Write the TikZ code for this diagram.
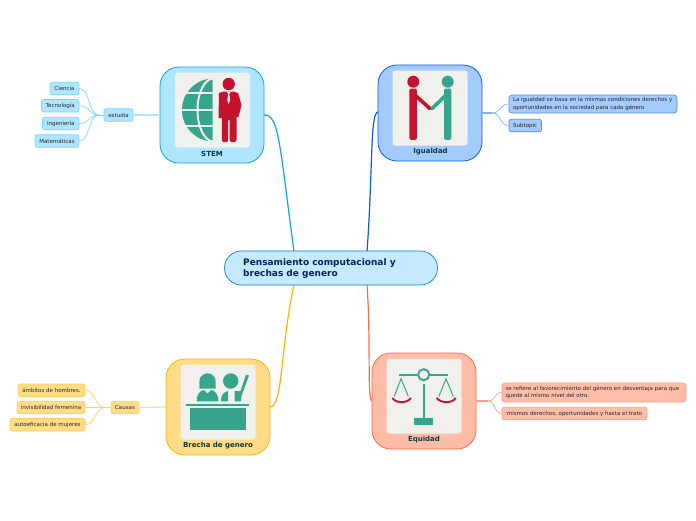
\documentclass[tikz,border=0pt]{standalone}
\usepackage{fontspec}
\setmainfont{DejaVu Sans}
\usetikzlibrary{calc}
\definecolor{teal1}{HTML}{37A58E}
\definecolor{red1}{HTML}{C5122F}
\definecolor{inner}{HTML}{F0F0EC}
\definecolor{labelc}{HTML}{0F3A3C}
\definecolor{bF}{HTML}{B0E5FF}\definecolor{bD}{HTML}{0AA5E6}\definecolor{bL}{HTML}{7AD4FF}
\definecolor{iF}{HTML}{A3CBFF}\definecolor{iD}{HTML}{0A5FD6}\definecolor{iL}{HTML}{7FB2F5}
\definecolor{yF}{HTML}{FFDD88}\definecolor{yD}{HTML}{FFB300}\definecolor{yL}{HTML}{FFCF5E}
\definecolor{rF}{HTML}{FFBDA8}\definecolor{rD}{HTML}{FF6A3D}\definecolor{rL}{HTML}{FF9C80}
\definecolor{cF}{HTML}{C5EAFF}\definecolor{cD}{HTML}{0B86C8}\definecolor{cT}{HTML}{0B1F5A}
\tikzset{
 x=1pt,y=-1pt,
 mainbox/.style={rounded corners=19pt,line width=0.8pt,minimum width=104pt,minimum height=96pt,inner sep=0pt},
 panel/.style={fill=inner,rounded corners=3pt,minimum width=75pt,minimum height=75pt,inner sep=0pt},
 mainlabel/.style={font=\bfseries\fontsize{7}{8}\selectfont,text=labelc,inner sep=0pt},
 leaf/.style={rounded corners=2.2pt,line width=0.7pt,inner sep=0pt,font=\fontsize{5.5}{7.2}\selectfont,text=black!85,align=left},
 link/.style={line width=1.2pt},
 twig/.style={line width=0.7pt},
 tealp/.style={fill=teal1,draw=none},
 redp/.style={fill=red1,draw=none},
}
\begin{document}
\begin{tikzpicture}
\useasboundingbox (0,0) rectangle (696,520);
% connector end coordinates on the central node
\coordinate (cNW) at (294,251.5);
\coordinate (cNE) at (367,251.5);
\coordinate (cSW) at (294,284.5);
\coordinate (cSE) at (367,284.5);
% hubs of the twigs
\coordinate (hubS) at (99,115);
\coordinate (hubI) at (492,113);
\coordinate (hubB) at (105,407.5);
\coordinate (hubE) at (488,401);

% main connectors are drawn under the boxes
\coordinate (aS) at (264,115);
\coordinate (aI) at (378,112);
\coordinate (aB) at (270,407);
\coordinate (aE) at (372,401);
\draw[link,draw=bD] (aS) .. controls (279,115) and (279,140) .. (cNW);
\draw[link,draw=iD] (aI) .. controls (370,112) and (373,170) .. (cNE);
\draw[link,draw=yD] (aB) .. controls (283,407) and (280,350) .. (cSW);
\draw[link,draw=rD] (aE) .. controls (367,400) and (371,340) .. (cSE);

% central
\node[draw=cD,fill=cF,rounded corners=17pt,line width=0.7pt,minimum width=213pt,minimum height=34pt,inner sep=0pt] (central) at (331,268) {};
\node[anchor=west,inner sep=0pt,align=left,text=cT,font=\bfseries\fontsize{9}{11.4}\selectfont] (ctext) at (243,268.5) {Pensamiento computacional y\\brechas de genero};

% main boxes
\node[mainbox,draw=bD,fill=bF] (stem) at (212,115) {};
\node[mainbox,draw=iD,fill=iF] (igual) at (430,113) {};
\node[mainbox,draw=yD,fill=yF] (brecha) at (218,407) {};
\node[mainbox,draw=rD,fill=rF] (equidad) at (424,401) {};
\node[panel] (pS) at (212.5,110) {};
\node[panel] (pI) at (430,108) {};
\node[panel] (pB) at (218,402) {};
\node[panel] (pE) at (424,396) {};
\node[mainlabel] (lS) at (212,153.7) {STEM};
\node[mainlabel] (lI) at (430.5,151.7) {Igualdad};
\node[mainlabel] (lB) at (218,445.7) {Brecha de genero};
\node[mainlabel] (lE) at (424,439.7) {Equidad};

% STEM leaves
\node[leaf,draw=bL,fill=bF,minimum width=29pt,minimum height=12.5pt] (estudia) at (118.5,115) {estudia};
\node[leaf,draw=bL,fill=bF,minimum width=29pt,minimum height=12.5pt] (s1) at (64.5,88.5) {Ciencia};
\node[leaf,draw=bL,fill=bF,minimum width=37.5pt,minimum height=12.5pt] (s2) at (60.3,105.7) {Tecnología};
\node[leaf,draw=bL,fill=bF,minimum width=36.5pt,minimum height=12.5pt] (s3) at (60.8,123.5) {Ingeniería};
\node[leaf,draw=bL,fill=bF,minimum width=44pt,minimum height=12.5pt] (s4) at (57,141) {Matemáticas};
\draw[link,draw=bF] (estudia.east) -- (stem.west);
\draw[twig,draw=bL] (estudia.west) -- (hubS);
\foreach \n in {s1,s2,s3,s4}
  \draw[twig,draw=bL] (hubS) .. controls +(-11,0) and ($(\n.east)+(11,0)$) .. (\n.east);

% Igualdad leaves
\node[leaf,draw=iD!55!iF,fill=iF,minimum width=168pt,minimum height=18pt,rounded corners=3pt] (i1) at (593,104) {\parbox{160pt}{\raggedright La igualdad se basa en la mismas condiciones derechos y\\oportunidades en la sociedad para cada género}};
\node[leaf,draw=iD!55!iF,fill=iF,minimum width=32.5pt,minimum height=12.5pt] (i2) at (525.2,125.5) {Subtopic};
\draw[link,draw=iL] (igual.east) -- (hubI);
\foreach \n in {i1,i2}
  \draw[twig,draw=iL] (hubI) .. controls +(9,0) and ($(\n.west)+(-9,0)$) .. (\n.west);

% Brecha leaves
\node[leaf,draw=yL,fill=yF,minimum width=28pt,minimum height=12.5pt] (causas) at (125,407.5) {Causas};
\node[leaf,draw=yL,fill=yF,minimum width=67pt,minimum height=12.5pt] (b1) at (51.5,390.2) {ámbitos de hombres.};
\node[leaf,draw=yL,fill=yF,minimum width=68pt,minimum height=12.5pt] (b2) at (51,407.5) {invisibilidad femenina};
\node[leaf,draw=yL,fill=yF,minimum width=75pt,minimum height=12.5pt] (b3) at (47.5,424.7) {autoeficacia de mujeres};
\draw[link,draw=yF] (causas.east) -- (brecha.west);
\draw[twig,draw=yL] (causas.west) -- (hubB);
\foreach \n in {b1,b2,b3}
  \draw[twig,draw=yL] (hubB) .. controls +(-10,0) and ($(\n.east)+(10,0)$) .. (\n.east);

% Equidad leaves
\node[leaf,draw=rL,fill=rF,minimum width=184pt,minimum height=19pt,rounded corners=3pt] (e1) at (594,392.5) {\parbox{177pt}{\raggedright se refiere al favorecimiento del género en desventaja para que\\quede al mismo nivel del otro.}};
\node[leaf,draw=rL,fill=rF,minimum width=145pt,minimum height=12.5pt] (e2) at (574.5,413.5) {mismos derechos, oportunidades y hasta el trato};
\draw[link,draw=rL] (equidad.east) -- (hubE);
\foreach \n in {e1,e2}
  \draw[twig,draw=rL] (hubE) .. controls +(8,0) and ($(\n.west)+(-8,0)$) .. (\n.west);

% --- icon: globe and man
\begin{scope}
  \clip (170,70) rectangle (212.5,150);
  \fill[teal1] (213.5,110) circle (31.5);
  \draw[inner,line width=2pt] (213.5,110) ellipse (16 and 31.5);
  \draw[inner,line width=2pt] (175,93) -- (215,93);
  \draw[inner,line width=2pt] (175,110) -- (215,110);
  \draw[inner,line width=2pt] (175,126) -- (215,126);
\end{scope}
\fill[red1] (228.7,84) circle (6.2);
\fill[redp] (219,93) -- (224,91.5) -- (233.5,91.5) -- (238,93) -- (241.5,105) -- (238.5,117) -- (236.5,117)
  -- (236.5,140) -- (235,142) -- (231,142) -- (229.7,140) -- (229.7,120) -- (228.2,120) -- (228.2,140) -- (227,142) -- (223,142) -- (221.8,140) -- (221.8,118) -- (218.5,118) -- cycle;
\fill[inner] (226.5,91.5) -- (231,91.5) -- (229.3,94) -- (230.2,100) -- (228.7,104) -- (227.3,100) -- (228.2,94) -- cycle;

% --- icon: handshake
\fill[red1] (413.3,81.7) circle (6);
\fill[teal1] (447.7,81.7) circle (6);
\fill[red1,rounded corners=1.5pt] (409.3,88.5) rectangle (416.9,139.8);
\fill[teal1,rounded corners=1.5pt] (444,88.5) rectangle (451.4,139.8);
\draw[red1,line width=3.6pt,line cap=round] (415.5,95.5) -- (430,108.6);
\draw[teal1,line width=3.6pt,line cap=round] (445.5,95.5) -- (432,108.6);

% --- icon: classroom
\fill[teal1] (199.3,388.5) -- (199.3,381.5) arc[start angle=180,end angle=360,radius=8.2] -- (215.7,388.5) -- cycle;
\fill[teal1] (196.7,401.3) .. controls (196.7,394) and (200,390.5) .. (204,390) -- (207.5,393.5) -- (211,390) .. controls (215,390.5) and (218.3,394) .. (218.3,401.3) -- cycle;
\fill[teal1] (230.7,381) circle (7.7);
\fill[teal1] (221,401.3) .. controls (221,396) and (222.5,392.5) .. (228,391) -- (228,401.3) -- cycle;
\fill[teal1] (234.5,391) -- (234.5,401.3) -- (241,401.3) -- (241.5,396) -- (249,375.5) -- (246,374.5) -- (240.5,391) -- cycle;
\fill[teal1] (186,404) rectangle (249.3,406.2);
\fill[teal1] (190,408.3) rectangle (245.7,430.3);

% --- icon: scales
\draw[teal1,line width=1.9pt] (423.7,374.7) circle (5.6);
\draw[teal1,line width=1.9pt] (399.3,374.7) -- (417,374.7);
\draw[teal1,line width=1.9pt] (430.4,374.7) -- (448.3,374.7);
\draw[teal1,line width=2pt] (423.7,384) -- (423.7,418);
\fill[teal1] (414.3,418) rectangle (433.3,424.7);
\draw[teal1,line width=1pt] (394.3,396.3) -- (401,378.7) -- (408.3,396.3);
\draw[teal1,line width=1pt] (439,396.3) -- (446,378.7) -- (453.3,396.3);
\draw[red1,line width=1.9pt] (392.3,398) .. controls (396,403.5) and (407,403.5) .. (411,398);
\draw[red1,line width=1.9pt] (436.7,398) .. controls (441,403.5) and (452,403.5) .. (455.7,398);
\end{tikzpicture}
\end{document}
